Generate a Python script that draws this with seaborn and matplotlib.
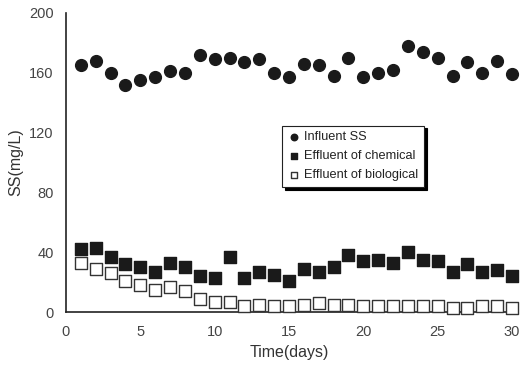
import matplotlib
matplotlib.use("Agg")
import matplotlib.pyplot as plt
import pandas as pd
import seaborn as sns

# ---------------------------------------------------------------
# data
# ---------------------------------------------------------------
days = list(range(1, 31))
influent = [165, 168, 160, 152, 155, 157, 161, 160, 172, 169,
            170, 167, 169, 160, 157, 166, 165, 158, 170, 157,
            160, 162, 178, 174, 170, 158, 167, 160, 168, 159]
chemical = [42, 43, 37, 32, 30, 27, 33, 30, 24, 23,
            37, 23, 27, 25, 21, 29, 27, 30, 38, 34,
            35, 33, 40, 35, 34, 27, 32, 27, 28, 24]
biological = [33, 29, 26, 21, 18, 15, 17, 14, 9, 7,
              7, 4, 5, 4, 4, 5, 6, 5, 5, 4,
              4, 4, 4, 4, 4, 3, 3, 4, 4, 3]
labels = ["Influent SS", "Effluent of chemical", "Effluent of biological"]

df = pd.DataFrame({"day": days, labels[0]: influent,
                   labels[1]: chemical, labels[2]: biological})
long = df.melt(id_vars="day", var_name="series", value_name="ss")

sns.set_style("white")
plt.rcParams["font.family"] = ["Liberation Sans", "DejaVu Sans"]

fig = plt.figure(figsize=(5.23, 3.67), dpi=100)
ax = fig.add_axes([66 / 523, 1 - 312 / 367, 446 / 523, 299 / 367])

styles = {
    labels[0]: dict(marker="o", color="#1a1a1a", edgecolor="#1a1a1a", s=72),
    labels[1]: dict(marker="s", color="#1a1a1a", edgecolor="#1a1a1a", s=70),
    labels[2]: dict(marker="s", color="white", edgecolor="#333333", s=70),
}
for name in labels:
    sub = long[long["series"] == name]
    sns.scatterplot(data=sub, x="day", y="ss", ax=ax, label=name,
                    linewidth=1.0, zorder=3, clip_on=False, **styles[name])

ax.set_xlim(0, 30)
ax.set_ylim(0, 200)
ax.set_xticks(range(0, 31, 5))
ax.set_yticks(range(0, 201, 40))
ax.set_xlabel("Time(days)", fontsize=11.5, color="#333333", labelpad=5)
ax.set_ylabel("SS(mg/L)", fontsize=11.5, color="#333333", labelpad=4)
ax.tick_params(direction="in", length=4, width=1, labelsize=10.5,
               colors="#444444", pad=9)
for side in ["top", "right"]:
    ax.spines[side].set_visible(False)
for side in ["left", "bottom"]:
    ax.spines[side].set_color("#222222")
    ax.spines[side].set_linewidth(1.2)

leg = ax.legend(loc="upper left", bbox_to_anchor=(0.47, 0.645),
                frameon=True, shadow={"color": "black", "alpha": 1.0},
                fancybox=False, fontsize=9.2,
                markerscale=0.55, handletextpad=0.3, borderpad=0.45,
                labelspacing=0.55, handlelength=1.0)
leg.get_frame().set_edgecolor("#222222")
leg.get_frame().set_linewidth(0.8)
for t in leg.get_texts():
    t.set_color("#222222")

fig.savefig("out.png", dpi=100)
